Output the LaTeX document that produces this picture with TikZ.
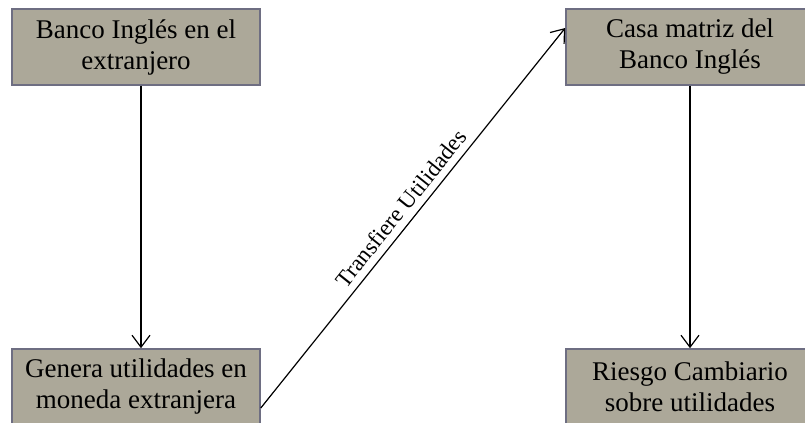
\documentclass[tikz,border=0pt]{standalone}
\usepackage{fontspec}
\setmainfont{Liberation Serif}
\usetikzlibrary{arrows.meta}

\begin{document}
\begin{tikzpicture}[x=0.5pt,y=-0.5pt,
    caja/.style={draw={rgb,255:red,110;green,110;blue,130},
      fill={rgb,255:red,172;green,168;blue,153},line width=0.8pt,
      minimum width=124pt,minimum height=38pt,align=center,
      font=\fontsize{13.5}{15.5}\selectfont},
    flecha/.style={-{Straight Barb[length=6pt,width=9pt]},line width=0.6pt}]
      \useasboundingbox (0,0) rectangle (805,423) ;
      \node[caja] (banco) at (136,47) {Banco Inglés en el\\extranjero} ;
      \node[caja] (genera) at (136,387) {Genera utilidades en\\moneda extranjera} ;
      \node[caja] (casa) at (690,47) {Casa matriz del\\Banco Inglés} ;
      \node[caja] (riesgo) at (690,387) {Riesgo Cambiario\\sobre utilidades} ;
      \draw[flecha] ([xshift=2.5pt]banco.south) -- ([xshift=2.5pt]genera.north) ;
      \draw[flecha] (casa.south) -- (riesgo.north) ;
      \draw[flecha] ([yshift=-10.5pt]genera.east) -- ([yshift=9.5pt]casa.west) %
        node[midway,sloped,above,font=\fontsize{11.5}{13}\selectfont]{Transfiere Utilidades} ;
    \end{tikzpicture}
\end{document}
